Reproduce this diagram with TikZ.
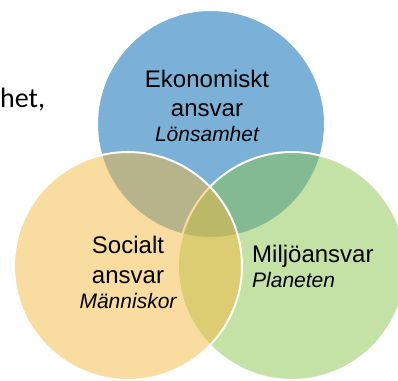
\documentclass[tikz,border=0pt]{standalone}
\usepackage{fontspec}
\setmainfont{Liberation Sans}
\newfontfamily\calibrifont{Carlito}
\usetikzlibrary{positioning}

\definecolor{ekoblue}{RGB}{123,176,215}
\definecolor{socorange}{RGB}{243,185,65}
\definecolor{miljgreen}{RGB}{139,197,77}

\tikzset{
    vennring/.style={draw=white, line width=2pt},
    venntext/.style={inner sep=0pt, anchor=base, font=\fontsize{24}{29}\selectfont},
    vennsub/.style={inner sep=0pt, anchor=base, font=\fontsize{21}{25}\selectfont\itshape}
}

\begin{document}
\begin{tikzpicture}[x=1pt, y=-1pt]
\useasboundingbox (0,0) rectangle (398,380);
\begin{scope}
    \clip (0,0) rectangle (398,380);
    \fill[ekoblue] (211,124) circle (114);
    \draw[vennring] (211,124) circle (114);
    \fill[miljgreen, fill opacity=0.5] (292,266) circle (114);
    \draw[vennring] (292,266) circle (114);
    \fill[socorange, fill opacity=0.5] (128,266) circle (114);
    \draw[vennring] (128,266) circle (114);
\end{scope}
\node[inner sep=0pt, anchor=base west, font=\calibrifont\fontsize{28}{34}\selectfont] (het) at (0,107) {het,};
\node[venntext] (eko) at (207,87) {Ekonomiskt};
\node[venntext] (ekoansvar) at (207,116) {ansvar};
\node[vennsub] (lonsamhet) at (207,141) {Lönsamhet};
\node[venntext] (soc) at (128,253) {Socialt};
\node[venntext] (socansvar) at (128,283) {ansvar};
\node[vennsub] (manniskor) at (128,308) {Människor};
\node[venntext, anchor=base west] (miljo) at (252,262) {Miljöansvar};
\node[vennsub, anchor=base west] (planeten) at (252,287) {Planeten};
\end{tikzpicture}
\end{document}
